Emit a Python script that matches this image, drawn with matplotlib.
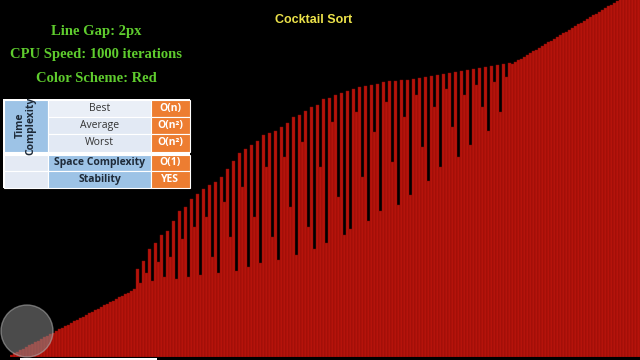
import matplotlib
matplotlib.use("Agg")
import matplotlib.pyplot as plt
from matplotlib.patches import Rectangle, Circle

# bar heights (pixels above the baseline), left to right
sorted_low = [2, 4, 5, 7, 8, 10, 12, 13, 15, 16, 18, 20, 21, 23, 24, 26, 28, 29, 31, 32,
              34, 36, 37, 39, 40, 42, 44, 45, 47, 48, 50, 52, 53, 55, 56, 58, 60, 61, 63, 64,
              66, 68]
unsorted_mid = [88, 74, 96, 84, 108, 76, 114, 95, 122, 80,
                126, 100, 136, 78, 146, 118, 150, 80, 158, 130,
                163, 82, 168, 140, 172, 100, 175, 84, 180, 155,
                188, 120, 196, 86, 204, 170, 208, 90, 212, 140,
                216, 94, 222, 190, 224, 120, 226, 97, 230, 200,
                234, 150, 240, 102, 242, 215, 246, 130, 250, 108,
                252, 190, 258, 114, 259, 235, 262, 160, 264, 122,
                266, 128, 268, 245, 270, 180, 271, 136, 272, 225,
                273, 146, 275, 255, 276, 195, 276, 152, 277, 240,
                277, 162, 278, 262, 279, 210, 280, 176, 281, 250,
                282, 190, 283, 268, 284, 230, 285, 200, 286, 262,
                287, 212, 288, 272, 289, 250, 290, 226, 291, 275,
                292, 245, 293, 280, 294]
sorted_high = [293, 295, 297, 298, 300, 302, 304, 306, 307, 309, 311, 313, 315, 316, 318,
               320, 322, 324, 325, 327, 329, 331, 333, 334, 336, 338, 340, 342, 343, 345,
               347, 349, 351, 352, 354, 356, 358, 360, 361, 363, 365, 367, 369]
valores = sorted_low + unsorted_mid + sorted_high

info_lines = ["Line Gap: 2px", "CPU Speed: 1000 iterations", "Color Scheme: Red"]
time_rows = ["Best", "Average", "Worst"]
time_vals = ["O(n)", "O(n\u00b2)", "O(n\u00b2)"]
other_rows = ["Space Complexity", "Stability"]
other_vals = ["O(1)", "YES"]

fig = plt.figure(figsize=(6.4, 3.6), dpi=100, facecolor="black")

# bars
N = len(valores)
ax = fig.add_axes([10 / 640, 3 / 360, 3 * N / 640, 357 / 360])
ax.set_facecolor("black")
ax.bar(range(N), valores, width=1.0, color="#b5130b", edgecolor="#850b06", linewidth=0.3)
ax.set_xlim(-0.5, N - 0.5)
ax.set_ylim(0, 357)
ax.axis("off")

# overlay in pixel coordinates
ov = fig.add_axes([0, 0, 1, 1])
ov.set_xlim(0, 640)
ov.set_ylim(360, 0)
ov.axis("off")
ov.patch.set_alpha(0)

ov.text(314, 20, "Cocktail Sort", color="#ece24a", fontsize=9, fontweight="bold",
        family="Liberation Sans", ha="center", va="center")

for i, s in enumerate(info_lines):
    ov.text(96, 31 + i * 23.5, s, color="#5fcc2e", fontsize=10.5, fontweight="bold",
            family="Liberation Serif", ha="center", va="center")

# table
blue = "#9dc3e6"
light = "#e2e9f4"
orange = "#ed7d31"
ov.add_patch(Rectangle((3, 99), 187, 89, facecolor="white", edgecolor="none"))
ov.add_patch(Rectangle((3.5, 99.5), 44, 52, facecolor=blue, edgecolor="white", lw=0.8))
ov.text(25.5, 125.5, "Time\nComplexity", rotation=90, ha="center", va="center",
        fontsize=7.5, fontweight="bold", color="#1e2a38", family="Open Sans", linespacing=1.0)
rh = 52 / 3
for i, (r, v) in enumerate(zip(time_rows, time_vals)):
    y = 99.5 + i * rh
    ov.add_patch(Rectangle((48, y), 103, rh, facecolor=light if i else "#eaeff7",
                           edgecolor="white", lw=0.8))
    ov.add_patch(Rectangle((151, y), 38.5, rh, facecolor=orange, edgecolor="white", lw=0.8))
    ov.text(99.5, y + rh / 2, r, ha="center", va="center", fontsize=7.5,
            color="#333333", family="Open Sans")
    ov.text(170, y + rh / 2, v, ha="center", va="center", fontsize=7.5,
            fontweight="bold", color="white", family="Open Sans")
rh2 = 16.5
for i, (r, v) in enumerate(zip(other_rows, other_vals)):
    y = 154.5 + i * rh2
    ov.add_patch(Rectangle((3.5, y), 44.5, rh2, facecolor="#e4eaf4", edgecolor="white", lw=0.8))
    ov.add_patch(Rectangle((48, y), 103, rh2, facecolor=blue, edgecolor="white", lw=0.8))
    ov.add_patch(Rectangle((151, y), 38.5, rh2, facecolor=orange, edgecolor="white", lw=0.8))
    ov.text(99.5, y + rh2 / 2, r, ha="center", va="center", fontsize=7.5,
            fontweight="bold", color="#1e2a38", family="Open Sans")
    ov.text(170, y + rh2 / 2, v, ha="center", va="center", fontsize=7.5,
            fontweight="bold", color="white", family="Open Sans")

# watermark logo and progress line
ov.add_patch(Circle((27, 331), 26, facecolor="#8a8a8a", edgecolor="#b0b0b0", lw=1, alpha=0.55))
ov.add_patch(Rectangle((20, 357.5), 137, 2.5, facecolor="white", edgecolor="none"))

fig.savefig("out.png", dpi=100, facecolor="black")
